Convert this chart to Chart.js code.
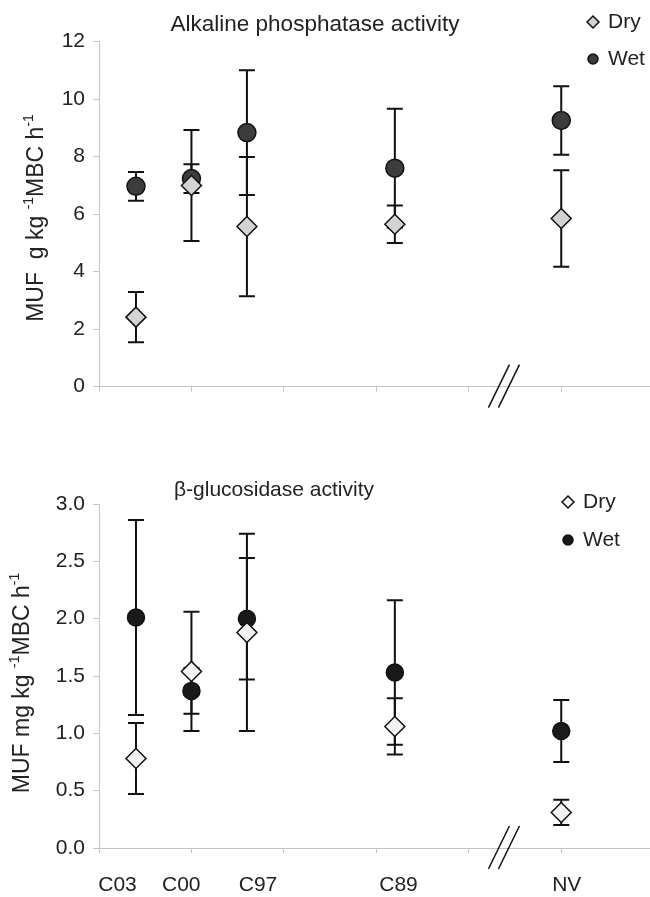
<!DOCTYPE html>
<html>
<head>
<meta charset="utf-8">
<script src="https://cdn.jsdelivr.net/npm/chart.js@4.4.1/dist/chart.umd.min.js"></script>
<style>
  body { margin: 0; background: #fff; }
  #wrap { position: relative; width: 650px; height: 897px; }
  canvas { position: absolute; left: 0; }
</style>
</head>
<body>
<div id="wrap">
  <canvas id="alp" width="650" height="440" style="top:0"></canvas>
  <canvas id="glu" width="650" height="457" style="top:440px"></canvas>
</div>
<script>
// --- data ---
const sites = ["C03", "C00", "C97", "C89", "NV"];
const siteAge = [2, 5, 8, 16, 25];            // x position of each site (years), NV drawn after the break

const alpDry = [2.42, 7.0, 5.57, 5.65, 5.85];
const alpDryErr = [0.87, 1.93, 2.42, 0.65, 1.68];
const alpWet = [6.97, 7.24, 8.84, 7.6, 9.26];
const alpWetErr = [0.5, 0.5, 2.17, 2.07, 1.19];

const gluDry = [0.78, 1.54, 1.88, 1.06, 0.31];
const gluDryErr = [0.31, 0.52, 0.86, 0.245, 0.11];
const gluWet = [2.01, 1.37, 2.0, 1.53, 1.02];
const gluWetErr = [0.85, 0.2, 0.53, 0.63, 0.27];

const alpTicks = [0, 2, 4, 6, 8, 10, 12];
const gluTicks = [0, 0.5, 1.0, 1.5, 2.0, 2.5, 3.0];

const FONT = "'Liberation Sans', Arial, sans-serif";
const INK = "#222";

const pts = (ys) => siteAge.map((x, i) => ({ x, y: ys[i] }));

// --- plugin: error bars, legend, titles, break marks, labels ---
const deco = {
  id: "deco",
  beforeDatasetsDraw(chart) {
    const { ctx, scales: { y } } = chart;
    ctx.save();
    ctx.strokeStyle = "#111";
    ctx.lineWidth = 2;
    chart.data.datasets.forEach((ds, i) => {
      const meta = chart.getDatasetMeta(i);
      ds.data.forEach((p, j) => {
        const e = ds.errors[j];
        const x = meta.data[j].x;
        const yt = y.getPixelForValue(p.y + e), yb = y.getPixelForValue(p.y - e);
        ctx.beginPath();
        ctx.moveTo(x, yt); ctx.lineTo(x, yb);
        ctx.moveTo(x - 8, yt); ctx.lineTo(x + 8, yt);
        ctx.moveTo(x - 8, yb); ctx.lineTo(x + 8, yb);
        ctx.stroke();
      });
    });
    ctx.restore();
  },
  afterDraw(chart, args, o) {
    const { ctx, scales: { x }, chartArea } = chart;
    ctx.save();
    ctx.fillStyle = INK;

    // title
    ctx.font = o.titleSize + "px " + FONT;
    ctx.textAlign = "center";
    ctx.textBaseline = "middle";
    ctx.fillText(o.title, o.titleX, o.titleY);

    // y axis title with superscripts
    ctx.save();
    ctx.translate(o.yTitleX, o.yTitleY);
    ctx.rotate(-Math.PI / 2);
    ctx.textAlign = "left";
    ctx.textBaseline = "middle";
    const big = "23px " + FONT, small = "14px " + FONT;
    let w = 0;
    o.yTitle.forEach(([t, sup]) => {
      ctx.font = sup ? small : big;
      w += ctx.measureText(t).width;
    });
    let cx = -w / 2;
    o.yTitle.forEach(([t, sup]) => {
      ctx.font = sup ? small : big;
      ctx.fillText(t, cx, sup ? -8 : 0);
      cx += ctx.measureText(t).width;
    });
    ctx.restore();

    // legend
    chart.data.datasets.forEach((ds, i) => {
      const lx = o.legendX, ly = o.legendY[i];
      ctx.fillStyle = ds.backgroundColor;
      ctx.strokeStyle = ds.borderColor;
      ctx.lineWidth = 1.5;
      Chart.helpers.drawPoint(ctx, { pointStyle: ds.pointStyle, radius: ds.pointStyle === "circle" ? 5 : 6, rotation: 0, borderWidth: 1.5 }, lx, ly);
      ctx.fillStyle = INK;
      ctx.font = "21px " + FONT;
      ctx.textAlign = "left";
      ctx.textBaseline = "middle";
      ctx.fillText(ds.label, lx + 15, ly);
    });

    // axis break
    const bx = x.getPixelForValue(o.breakAt), by = chartArea.bottom;
    ctx.strokeStyle = "#111";
    ctx.lineWidth = 1.5;
    [-5, 5].forEach(d => {
      ctx.beginPath();
      ctx.moveTo(bx + d - 10.5, by + 21);
      ctx.lineTo(bx + d + 10.5, by - 22);
      ctx.stroke();
    });

    // site labels
    if (o.siteLabels) {
      ctx.fillStyle = INK;
      ctx.font = "21px " + FONT;
      ctx.textAlign = "center";
      ctx.textBaseline = "middle";
      sites.forEach((s, i) => ctx.fillText(s, x.getPixelForValue(o.siteLabelAt[i]), o.siteLabelY));
    }
    ctx.restore();
  }
};

function makeChart(id, dry, dryErr, wet, wetErr, ticks, yMax, opts, dryFill, wetFill, wetR, topPad, xHeight, fmt) {
  return new Chart(document.getElementById(id), {
    type: "scatter",
    data: {
      datasets: [
        { label: "Dry", data: pts(dry), errors: dryErr, pointStyle: "rectRot", pointRadius: 10,
          backgroundColor: dryFill, borderColor: "#111", borderWidth: 1.5 },
        { label: "Wet", data: pts(wet), errors: wetErr, pointStyle: "circle", pointRadius: wetR,
          backgroundColor: wetFill, borderColor: "#111", borderWidth: 1.5 }
      ]
    },
    options: {
      responsive: false,
      animation: false,
      layout: { autoPadding: false, padding: { top: topPad, left: 0, right: 0, bottom: 0 } },
      plugins: { legend: { display: false }, tooltip: { enabled: false }, deco: opts },
      scales: {
        x: {
          type: "linear", min: 0, max: 29.8,
          ticks: { stepSize: 5, includeBounds: false, display: false },
          grid: { drawOnChartArea: false, drawTicks: true, tickLength: 5, color: "#c4c4c4" },
          border: { color: "#c4c4c4", width: 1 },
          afterFit: s => { s.height = xHeight; }
        },
        y: {
          min: 0, max: yMax,
          afterBuildTicks: s => { s.ticks = ticks.map(v => ({ value: v })); },
          ticks: { color: INK, font: { family: FONT, size: 21 }, padding: 8, callback: fmt },
          grid: { drawOnChartArea: false, drawTicks: true, tickLength: 6, color: "#c4c4c4" },
          border: { color: "#c4c4c4", width: 1 },
          afterFit: s => { s.width = 99; }
        }
      }
    },
    plugins: [deco]
  });
}

makeChart("alp", alpDry, alpDryErr, alpWet, alpWetErr, alpTicks, 12, {
  title: "Alkaline phosphatase activity", titleSize: 22.5, titleX: 315, titleY: 25,
  yTitle: [["MUF  g kg ", 0], ["-1", 1], ["MBC h", 0], ["-1", 1]], yTitleX: 37, yTitleY: 218,
  legendX: 593, legendY: [22, 59], breakAt: 21.9, siteLabels: false
}, "#d3d3d3", "#3c3c3c", 9, 41.7, 440 - 386.7, v => String(v));

makeChart("glu", gluDry, gluDryErr, gluWet, gluWetErr, gluTicks, 3, {
  title: "\u03B2-glucosidase activity", titleSize: 21, titleX: 274, titleY: 50,
  yTitle: [["MUF mg kg ", 0], ["-1", 1], ["MBC h", 0], ["-1", 1]], yTitleX: 23, yTitleY: 243,
  legendX: 568, legendY: [62, 100], breakAt: 21.9,
  siteLabels: true, siteLabelAt: [1.0, 4.45, 8.6, 16.2, 25.3], siteLabelY: 445
}, "#f3f3f3", "#1a1a1a", 8.5, 64, 457 - 408, v => v.toFixed(1));
</script>
</body>
</html>
